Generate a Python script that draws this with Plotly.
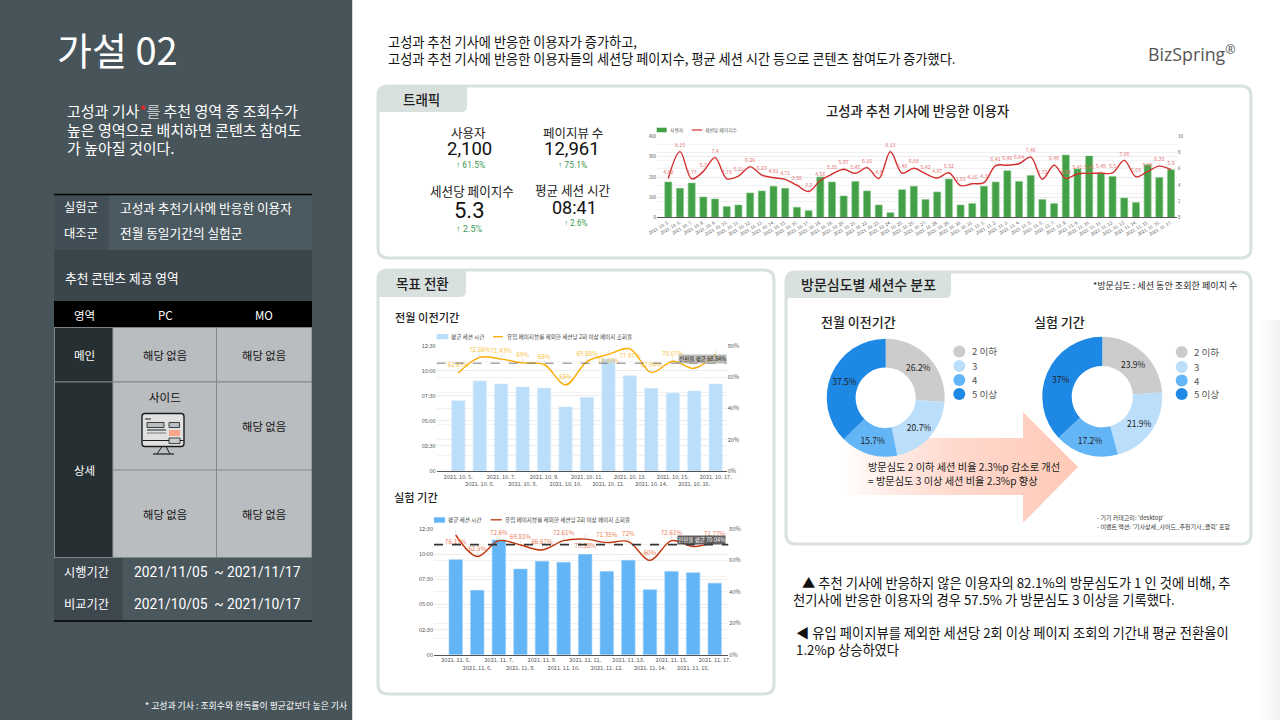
import plotly.graph_objects as go

# ---------- data ----------
traffic_dates = [f"2021. 10. {d}." for d in range(5, 32)] + [f"2021. 11. {d}." for d in range(1, 18)]
traffic_users = [175, 144, 170, 101, 91, 53, 61, 121, 131, 154, 144, 50, 33, 200, 175, 106, 178, 131, 61, 23, 137, 154, 88, 126, 190,
                 61, 68, 154, 175, 231, 178, 208, 88, 68, 309, 240, 304, 218, 203, 96, 73, 261, 198, 236]
traffic_pages = [4.82, 8.15, 4.77, 5.7, 7.4, 4.78, 5.11, 6.26, 5.23, 4.91, 4.71, 3.98, 3.2, 4.56, 5.35, 5.97, 5.45, 6.16, 4.8, 8.13, 5.48, 6.08, 5.42, 4.87, 5.52,
                 3.93, 4.16, 4.3, 6.41, 6.46, 6.64, 7.46, 4.72, 6.46, 4.83, 5.41, 5.45, 5.49, 5.5, 7.06, 5.03, 5.68, 6.35, 5.9]

prev_dates = [f"2021. 10. {d}." for d in range(5, 18)]
prev_secs = [421, 539, 521, 503, 497, 383, 441, 670, 570, 495, 467, 479, 521]
prev_rate = [62.63, 72.56, 71.43, 69, 68, 55, 69.88, 74.42, 77.97, 62.94, 70.07, 65.57, 74.67]
prev_avg = 68.84

test_dates = [f"2021. 11. {d}." for d in range(5, 18)]
test_secs = [567, 384, 684, 511, 557, 551, 599, 497, 563, 388, 497, 489, 426]
test_rate = [76.19, 62.5, 72.6, 69.81, 66.67, 72.61, 73.58, 71.35, 72, 60, 72.61, 68.8, 71.77]
test_avg = 70.04

time_ticks = [0, 150, 300, 450, 600, 750]
time_labels = ["00", "02:30", "05:00", "07:30", "10:00", "12:30"]
pct_ticks = [0, 20, 40, 60, 80]
pct_labels = ["0%", "20%", "40%", "60%", "80%"]

depth_labels = ["2 이하", "3", "4", "5 이상"]
depth_prev = [26.2, 20.7, 15.7, 37.5]
depth_test = [23.9, 21.9, 17.2, 37]
depth_colors = ["#cccccc", "#bbdefb", "#64b5f6", "#1e88e5"]

FONT = "Noto Sans CJK KR"
NUM = "Roboto"
W, H = 1280, 720
PANEL = "#47545a"
TAB = "#d9e1df"

def fx(x): return x / W
def fy(y): return 1 - y / H

shapes, annos = [], []

def rect(x0, y0, x1, y1, fill, line=None, lw=0):
    shapes.append(dict(type="rect", xref="paper", yref="paper", x0=fx(x0), x1=fx(x1), y0=fy(y0), y1=fy(y1),
                       fillcolor=fill, line=dict(color=line or fill, width=lw), layer="below"))

def seg(x0, y0, x1, y1, color, lw=1):
    shapes.append(dict(type="line", xref="paper", yref="paper", x0=fx(x0), x1=fx(x1), y0=fy(y0), y1=fy(y1),
                       line=dict(color=color, width=lw), layer="below"))

def rr(x0, y0, x1, y1, tl, tr, br, bl, fill, line=None, lw=0):
    def P(x, y): return f"{fx(x):.5f},{fy(y):.5f}"
    p = f"M{P(x0+tl,y0)} L{P(x1-tr,y0)} Q{P(x1,y0)} {P(x1,y0+tr)} L{P(x1,y1-br)} Q{P(x1,y1)} {P(x1-br,y1)} L{P(x0+bl,y1)} Q{P(x0,y1)} {P(x0,y1-bl)} L{P(x0,y0+tl)} Q{P(x0,y0)} {P(x0+tl,y0)} Z"
    shapes.append(dict(type="path", xref="paper", yref="paper", path=p, fillcolor=fill,
                       line=dict(color=line or fill, width=lw), layer="below"))

def t(x, y, text, size=12, color="#222222", anchor="left", weight=None, bg=None, family=FONT):
    f = dict(family=family, size=size, color=color)
    if weight: f["weight"] = weight
    a = dict(xref="paper", yref="paper", x=fx(x), y=fy(y), text=text, showarrow=False, xanchor=anchor, yanchor="middle",
             font=f, borderpad=0, align=anchor)
    if bg: a["bgcolor"] = bg
    annos.append(a)

# ---------- left panel ----------
rect(0, 0, 352, 720, PANEL)
seg(352.5, 0, 352.5, 720, "#d5d8d9", 1)
t(56, 49, "가설 02", 38, "#ffffff", weight=400)
t(66, 110.5, '고성과 기사<span style="color:#ff2020">*</span><span style="color:#c4c8ca">를</span> 추천 영역 중 조회수가', 15, "#ffffff")
t(66, 129.5, "높은 영역으로 배치하면 콘텐츠 참여도", 15, "#ffffff")
t(66, 148, "가 높아질 것이다.", 15, "#ffffff")

rect(109, 195, 312, 250, "#4b5a60")
rect(54, 195, 109, 250, "#424e55")
seg(54, 194.5, 312, 194.5, "#000000", 1.5)
rect(54, 250, 312, 301, "#3b454c")
rect(54, 301, 312, 327, "#000000")
rect(54, 327, 312, 558, "#80868a")
rect(55, 328, 112.3, 381.3, "#262f31")
rect(55, 382.5, 112.3, 557, "#262f31")
for (a, b) in [(328, 381.3), (382.6, 469.4), (470.6, 557)]:
    rect(113.3, a, 216, b, "#b9bdbf")
    rect(217, a, 311.4, b, "#b9bdbf")
rect(54, 558, 122.7, 621, "#3d484f")
rect(122.7, 558, 312, 621, "#4a585e")
seg(54, 621, 312, 621, "#000000", 1.5)

t(81, 207.5, "실험군", 12.3, "#ffffff", "center")
t(81, 232.5, "대조군", 12.3, "#ffffff", "center")
t(119, 207.5, "고성과 추천기사에 반응한 이용자", 12.7, "#ffffff")
t(119, 232.5, "전월 동일기간의 실험군", 12.7, "#ffffff")
t(64, 277, "추천 콘텐츠 제공 영역", 12.7, "#ffffff")
t(84, 315, "영역", 11.5, "#ffffff", "center")
t(165, 315, "PC", 11.5, "#ffffff", "center")
t(264, 315, "MO", 11.5, "#ffffff", "center")
t(84, 355, "메인", 11.5, "#ffffff", "center")
t(84, 470, "상세", 11.5, "#ffffff", "center")
for (x, y) in [(165, 355), (264, 355), (264, 425.5), (165, 513.5), (264, 513.5)]:
    t(x, y, "해당 없음", 11.3, "#111111", "center")
t(164.5, 396.5, "사이드", 11.5, "#111111", "center")
t(86.5, 571.5, "시행기간", 12.2, "#ffffff", "center")
t(86.5, 604, "비교기간", 12.2, "#ffffff", "center")
t(133, 571.5, "2021/11/05  ~ 2021/11/17", 13.8, "#ffffff", family=NUM)
t(133, 604, "2021/10/05  ~ 2021/10/17", 13.8, "#ffffff", family=NUM)
t(348, 705.5, "* 고성과 기사 : 조회수와 완독률이 평균값보다 높은 기사", 8.9, "#ffffff", "right")

# monitor icon
rr(142, 413.5, 184, 446.5, 3, 3, 3, 3, "#dfe1e2", "#1c1c1c", 1.4)
seg(142.5, 440.5, 183.5, 440.5, "#1c1c1c", 1)
seg(145, 419, 151, 419, "#1c1c1c", 1)
rect(147, 422.5, 164, 427.5, "#b9bdbf", "#1c1c1c", 0.8)
rect(169, 422.5, 179.5, 427.5, "#b9bdbf", "#1c1c1c", 0.8)
rect(169, 430, 180, 436, "#f8a58a")
rect(169, 438, 180, 443.5, "#c9cccd", "#1c1c1c", 0.8)
seg(147, 430, 166, 430, "#1c1c1c", 1)
seg(147, 433, 166, 433, "#777777", 1)
seg(162, 446.5, 157, 454, "#1c1c1c", 1)
seg(166, 446.5, 170, 454, "#1c1c1c", 1)
seg(153, 454, 174, 454, "#1c1c1c", 1.2)

# ---------- header ----------
t(387, 41, "고성과 추천 기사에 반응한 이용자가 증가하고,", 13.2, "#111111")
t(387, 58, "고성과 추천 기사에 반응한 이용자들의 세션당 페이지수, 평균 세션 시간 등으로 콘텐츠 참여도가 증가했다.", 13.2, "#111111")
annos.append(dict(xref="paper", yref="paper", x=fx(1146), y=fy(54), text='BizSpring<sup style="font-size:7px">®</sup>', showarrow=False,
                  xanchor="left", yanchor="middle", font=dict(family="Open Sans", size=17.8, color="#555555")))

# ---------- panels ----------
rr(378, 86, 1251, 258, 10, 10, 10, 10, "#ffffff", TAB, 3)
rr(378, 270, 774, 694, 10, 10, 10, 10, "#ffffff", TAB, 3)
rr(786, 272, 1251, 544, 10, 10, 10, 10, "#ffffff", TAB, 3)
rr(378, 86, 467, 112, 8, 0, 6, 0, TAB)
rr(378, 270, 466, 297, 8, 0, 6, 0, TAB)
rr(786, 272, 951, 298, 8, 0, 6, 0, TAB)
t(421, 99, "트래픽", 13.5, "#222222", "center", 500)
t(422, 283, "목표 전환", 13.5, "#222222", "center", 500)
t(868, 284, "방문심도별 세션수 분포", 14, "#222222", "center", 500)
t(1239, 285, "*방문심도 : 세션 동안 조회한 페이지 수", 9.1, "#222222", "right")

# KPIs
GR = "#3d9a50"
t(468, 132.5, "사용자", 12.5, "#222222", "center")
t(469.5, 149, "2,100", 18.5, "#111111", "center", family=NUM)
t(470, 165, "↑ 61.5%", 8.5, GR, "center", family=NUM)
t(572.5, 132.5, "페이지뷰 수", 12.5, "#222222", "center")
t(572, 149, "12,961", 18.5, "#111111", "center", family=NUM)
t(572.5, 165, "↑ 75.1%", 8.5, GR, "center", family=NUM)
t(471.5, 191, "세션당 페이지수", 12.6, "#222222", "center")
t(469, 210, "5.3", 22, "#111111", "center", family=NUM)
t(469.5, 228.5, "↑ 2.5%", 9.2, GR, "center", family=NUM)
t(572.5, 190, "평균 세션 시간", 12.6, "#222222", "center")
t(574.5, 207.5, "08:41", 18, "#111111", "center", family=NUM)
t(575.5, 223, "↑ 2.6%", 8.2, GR, "center", family=NUM)

t(917, 110, "고성과 추천 기사에 반응한 이용자", 13.3, "#222222", "center", 500)

# traffic legend
rect(656.7, 127.7, 666.7, 132.3, "#43a047")
t(669, 130, "사용자", 4.8, "#555555")
seg(691.7, 130, 702.3, 130, "#d32f2f", 1.2)
t(704, 130, "세션당 페이지수", 4.8, "#555555")

# conversion titles & legends
t(394, 317, "전월 이전기간", 11.2, "#222222", weight=500)
t(393, 497, "실험 기간", 11.2, "#222222", weight=500)
LEG2 = "유입 페이지뷰를 제외한 세션당 2회 이상 페이지 조회율"
rect(436.7, 334, 448.3, 339.3, "#bbdefb")
t(450, 336.7, "평균 세션 시간", 5.6, "#444444")
seg(493, 336.7, 503, 336.7, "#f9ab00", 1.3)
t(506, 336.7, LEG2, 5.6, "#444444")
rect(434, 517.3, 445, 522.7, "#64b5f6")
t(447.3, 519.8, "평균 세션 시간", 5.6, "#444444")
seg(490.7, 519.8, 501.7, 519.8, "#bf360c", 1.3)
t(504.3, 519.8, LEG2, 5.6, "#444444")
t(702.5, 358.5, "전환율 평균 68.84%", 5.6, "#222222", "center", bg="rgba(170,170,170,0.75)")
t(701, 540, "전환율 평균 70.04%", 5.6, "#ffffff", "center", bg="rgba(70,70,70,0.85)")

# depth section
t(820, 321.5, "전월 이전기간", 13, "#222222", weight=500)
t(1033, 321.5, "실험 기간", 13, "#222222", weight=500)
for cx, ys in [(959.3, [351.5, 366, 380, 394]), (1181.7, [352, 367, 380.5, 394])]:
    for lab, col, yy in zip(depth_labels, depth_colors, ys):
        shapes.append(dict(type="circle", xref="paper", yref="paper", x0=fx(cx - 6), x1=fx(cx + 6), y0=fy(yy - 6), y1=fy(yy + 6),
                           fillcolor=col, line=dict(width=0), layer="below"))
        t(cx + 11.5, yy, lab, 9.6, "#555555")
t(867, 466, "방문심도 2 이하 세션 비율 2.3%p 감소로 개선", 10.2, "#222222")
t(867, 480, "= 방문심도 3 이상 세션 비율 2.3%p 향상", 10.2, "#222222")
t(1096, 517.5, "- 기기 카테고리: 'desktop'", 6, "#333333")
t(1096, 526, "- 이벤트 액션: '기사상세_사이드_추천기사_클릭' 포함", 6, "#333333")

# bottom text
t(801, 582, "▲ 추천 기사에 반응하지 않은 이용자의 82.1%의 방문심도가 1 인 것에 비해, 추", 13.3, "#111111")
t(792, 599, "천기사에 반응한 이용자의 경우 57.5% 가 방문심도 3 이상을 기록했다.", 13.3, "#111111")
t(795, 632, "◀ 유입 페이지뷰를 제외한 세션당 2회 이상 페이지 조회의 기간내 평균 전환율이", 13.3, "#111111")
t(795, 649, "1.2%p 상승하였다", 13.3, "#111111")

# right edge soft shade
for i in range(11):
    v = 255 - int(i * 1.4)
    rect(1258 + i * 2, 320, 1260 + i * 2, 720, f"rgb({v},{v},{v})")

# ---------- figure ----------
fig = go.Figure()

def dom_x(a, b): return [fx(a), fx(b)]
def dom_y(top, bottom): return [fy(bottom), fy(top)]

def combo(n, cats, bars, line, x0, x1, first, last, bar_col, bar_edge, line_col, text_col, lbl, lbl_size, bar_width, text_pos, lead, msize):
    xa, ya, yb = f"x{n}", f"y{2*n-1}", f"y{2*n}"
    step = (last - first) / (len(cats) - 1)
    rng = [(x0 - first) / step, (x1 - first) / step]
    fig.add_trace(go.Bar(x=cats, y=bars, width=bar_width, marker=dict(color=bar_col, line=dict(color=bar_edge, width=0.6)),
                         xaxis=xa, yaxis=ya, hoverinfo="skip", showlegend=False))
    fig.add_trace(go.Scatter(x=cats, y=line, mode="lines+markers+text", line=dict(color=line_col, width=1.4, shape="spline", smoothing=1),
                             marker=dict(size=msize, color="rgba(0,0,0,0)"), text=lbl, textposition=text_pos,
                             textfont=dict(family=FONT, size=lbl_size, color=text_col),
                             error_y=dict(type="data", symmetric=False, array=[lead] * len(cats), arrayminus=[0] * len(cats),
                                          color="#c8c8c8", thickness=0.5, width=0),
                             xaxis=xa, yaxis=yb, hoverinfo="skip", showlegend=False, cliponaxis=False))
    return rng

layout_axes = {}

def axes(n, rng, x0, x1, top, bottom, left_range, right_range, left_ticks, left_text, right_ticks, right_text, right_minor,
         tick_size, xticks, xtext, angle=0):
    xkey, ykey, y2key = ("xaxis" + (str(n) if n > 1 else "")), f"yaxis{2*n-1 if 2*n-1 > 1 else ''}", f"yaxis{2*n}"
    tf = dict(family=FONT, size=tick_size, color="#555555")
    layout_axes[xkey] = dict(domain=dom_x(x0, x1), anchor=f"y{2*n-1}", type="category", range=rng, showgrid=False,
                             showline=True, linecolor="#555555", linewidth=1, ticks="", tickangle=angle,
                             tickfont=tf, tickmode="array", tickvals=xticks, ticktext=xtext,
                             automargin=False, fixedrange=True)
    layout_axes[ykey] = dict(domain=dom_y(top, bottom), anchor=f"x{n}", range=left_range, tickmode="array", tickvals=left_ticks, ticktext=left_text,
                             showgrid=True, gridcolor="#ececec", gridwidth=1, zeroline=False, ticks="", showline=False,
                             tickfont=tf, automargin=False, fixedrange=True)
    layout_axes[y2key] = dict(domain=dom_y(top, bottom), anchor=f"x{n}", overlaying=f"y{2*n-1}", side="right", range=right_range,
                              tickmode="array", tickvals=right_ticks, ticktext=right_text,
                              showgrid=True, gridcolor="#f0f0f0", gridwidth=1, zeroline=False, ticks="", showline=False,
                              minor=dict(tickmode="linear", tick0=0, dtick=right_minor, showgrid=True, gridcolor="#f3f3f3", gridwidth=1, ticks=""),
                              tickfont=tf, automargin=False, fixedrange=True)

# traffic
lbl = [str(v) for v in traffic_pages]
r1 = combo(1, traffic_dates, traffic_users, traffic_pages, 657, 1177, 668.3, 1171,
           "#43a047", "#81c784", "#d32f2f", "#e57373", lbl, 5.2, 0.6, "top center", 0.3, 4)
axes(1, r1, 657, 1177, 136.7, 217.3, [0, 400], [0, 10], [0, 100, 200, 300, 400], ["0", "100", "200", "300", "400"],
     [0, 2, 4, 6, 8, 10], ["0", "2", "4", "6", "8", "10"], 1, 4.4, traffic_dates, traffic_dates, -30)

# previous-period conversion
def two_rows(cats): return [c if i % 2 == 0 else "<br>" + c for i, c in enumerate(cats)]
lbl2 = [f"{v:g}%" for v in prev_rate]
pos2 = ["top center"] * 13
for i in (7, 8, 12): pos2[i] = "bottom center"
r2 = combo(2, prev_dates, prev_secs, prev_rate, 436.7, 726.7, 458.3, 715.7,
           "#bbdefb", "#d6ebfd", "#f9ab00", "#f9bf3b", lbl2, 6.2, 0.62, pos2, 3, 5)
axes(2, r2, 436.7, 726.7, 345.7, 471, [0, 750], [0, 80], time_ticks, time_labels, pct_ticks, pct_labels, 10, 5.6,
     prev_dates, two_rows(prev_dates))

# experiment-period conversion
lbl3 = [f"{v:g}%" for v in test_rate]
pos3 = ["top center"] * 13
pos3[0] = "bottom center"; pos3[6] = "bottom center"
r3 = combo(3, test_dates, test_secs, test_rate, 434, 728.3, 455.7, 714.7,
           "#64b5f6", "#90caf9", "#bf360c", "#ea7a55", lbl3, 6.2, 0.62, pos3, 3, 5)
axes(3, r3, 434, 728.3, 529, 654.7, [0, 750], [0, 80], time_ticks, time_labels, pct_ticks, pct_labels, 10, 5.6,
     test_dates, two_rows(test_dates))

# average lines
shapes.append(dict(type="line", xref="x2 domain", yref="y4", x0=0, x1=1, y0=prev_avg, y1=prev_avg, line=dict(color="#777777", width=1, dash="dash")))
shapes.append(dict(type="line", xref="x3 domain", yref="y6", x0=0, x1=1, y0=test_avg, y1=test_avg, line=dict(color="#333333", width=1.6, dash="dash")))

# gradient arrow on a page-sized helper axis
fig.add_trace(go.Scatter(x=[840, 1023, 1023, 1078, 1023, 1023, 840, 840], y=[438, 438, 412, 467, 523, 495, 495, 438],
                         mode="lines", line=dict(width=0), fill="toself",
                         fillgradient=dict(type="horizontal", colorscale=[[0, "rgba(255,204,188,0)"], [0.5, "rgba(255,214,202,0.95)"], [1, "#ffc9b6"]]),
                         xaxis="x4", yaxis="y7", hoverinfo="skip", showlegend=False))
layout_axes["xaxis4"] = dict(domain=[0, 1], range=[0, W], visible=False, anchor="y7", fixedrange=True)
layout_axes["yaxis7"] = dict(domain=[0, 1], range=[H, 0], visible=False, anchor="x4", fixedrange=True)

# donuts
for vals, cx, cy, r in [(depth_prev, 885.7, 397.7, 59), (depth_test, 1102.3, 396.7, 60)]:
    fig.add_trace(go.Pie(labels=depth_labels, values=vals, text=[f"{v:g}%" for v in vals], textinfo="text", hole=0.51, sort=False,
                         direction="clockwise", rotation=0, marker=dict(colors=depth_colors, line=dict(width=0)),
                         textposition="inside", insidetextorientation="horizontal",
                         textfont=dict(family=FONT, size=8.5, color="#222222"), hoverinfo="skip", showlegend=False,
                         domain=dict(x=[fx(cx - r), fx(cx + r)], y=[fy(cy + r), fy(cy - r)])))

fig.update_layout(width=W, height=H, autosize=False, margin=dict(l=0, r=0, t=0, b=0, pad=0),
                  paper_bgcolor="#ffffff", plot_bgcolor="rgba(0,0,0,0)", showlegend=False,
                  shapes=shapes, annotations=annos, barmode="overlay", font=dict(family=FONT), **layout_axes)

fig.write_html("out.html", config=dict(displayModeBar=False),
               post_script="document.body.style.margin='0';document.body.style.overflow='hidden';")
